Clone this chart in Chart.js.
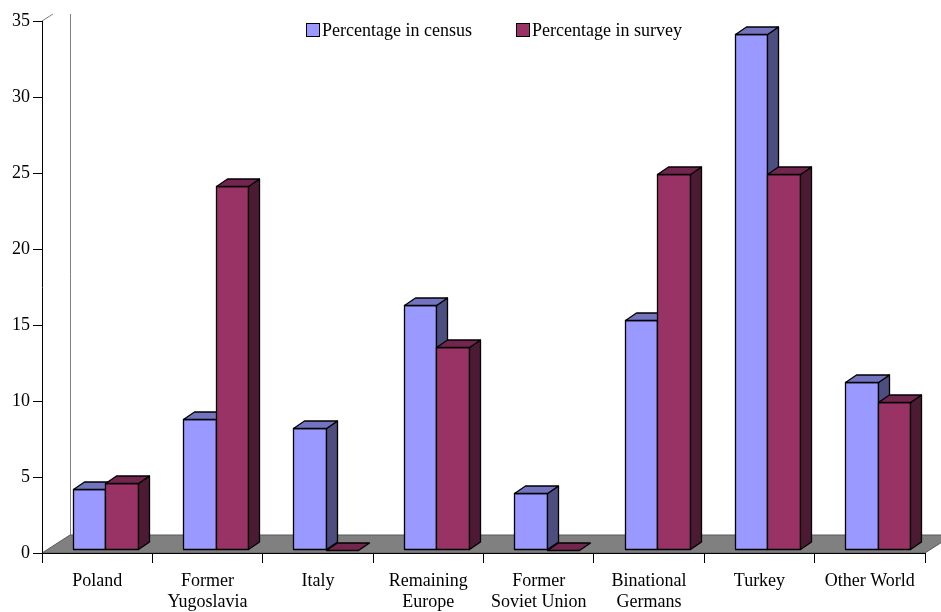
<!DOCTYPE html>
<html>
<head>
<meta charset="utf-8">
<script src="https://cdn.jsdelivr.net/npm/chart.js@4"></script>
<style>
  html, body { margin: 0; padding: 0; background: #fff; }
  canvas { display: block; }
</style>
</head>
<body>
<canvas id="chart" width="941" height="612"></canvas>
<script>
// Origin groups along the category axis (multi-line labels as arrays)
const categories = [
    ["Poland"],
    ["Former", "Yugoslavia"],
    ["Italy"],
    ["Remaining", "Europe"],
    ["Former", "Soviet Union"],
    ["Binational", "Germans"],
    ["Turkey"],
    ["Other World"]
];
const censusValues = [4.0, 8.6, 8.0, 16.1, 3.7, 15.1, 33.9, 11.0];
const surveyValues = [4.4, 23.9, 0, 13.3, 0, 24.7, 24.7, 9.7];
const yTicks = [0, 5, 10, 15, 20, 25, 30, 35];
const seriesNames = ["Percentage in census", "Percentage in survey"];

const serif = '"Liberation Serif", "Times New Roman", serif';

// front / top / side shades of each series
const shades = [
    { front: "#9999ff", top: "#7373bf", side: "#4d4d80" },
    { front: "#993366", top: "#73264d", side: "#4d1a33" }
];

// fake 3d projection offsets
const FLOOR_DX = 28, FLOOR_DY = -18;
const BAR_DX = 11, BAR_DY = -7.5;
const BAR_SHIFT_X = 8, BAR_SHIFT_Y = -3.5;

let poly = (ctx, pts, fill) => {
    ctx.beginPath();
    ctx.moveTo(pts[0][0], pts[0][1]);
    for (let i = 1; i < pts.length; i++)
        ctx.lineTo(pts[i][0], pts[i][1]);
    ctx.closePath();
    ctx.fillStyle = fill;
    ctx.fill();
    ctx.stroke();
};

const floor3d = {
    id: "floor3d",
    beforeDraw(chart) {
        const { ctx, chartArea: a } = chart;
        ctx.save();
        // back wall edge + top corner
        ctx.strokeStyle = "#808080";
        ctx.lineWidth = 1;
        ctx.beginPath();
        ctx.moveTo(a.left + FLOOR_DX + 0.5, 14);
        ctx.lineTo(a.left + FLOOR_DX + 0.5, a.bottom + FLOOR_DY);
        ctx.moveTo(a.left, a.top);
        ctx.lineTo(a.left + 11, a.top - 7);
        ctx.stroke();
        // grey floor
        ctx.strokeStyle = "#5a5a5a";
        poly(ctx, [
            [a.left, a.bottom],
            [a.right, a.bottom],
            [a.right + FLOOR_DX, a.bottom + FLOOR_DY],
            [a.left + FLOOR_DX, a.bottom + FLOOR_DY]
        ], "#808080");
        ctx.restore();
    }
};

const bars3d = {
    id: "bars3d",
    afterDatasetsDraw(chart) {
        const ctx = chart.ctx;
        ctx.save();
        ctx.strokeStyle = "#000";
        ctx.lineWidth = 1.3;
        ctx.lineJoin = "round";
        for (let i = 0; i < categories.length; i++) {
            for (let d = 0; d < 2; d++) {
                const el = chart.getDatasetMeta(d).data[i];
                const c = shades[d];
                const x0 = Math.round(el.x - el.width / 2 + BAR_SHIFT_X) + 0.5;
                const x1 = Math.round(el.x + el.width / 2 + BAR_SHIFT_X) + 0.5;
                const yb = Math.round(el.base + BAR_SHIFT_Y) + 0.5;
                const yt = Math.round(el.y + BAR_SHIFT_Y) + 0.5;
                if (yb - yt > 0.5) {
                    poly(ctx, [[x0, yt], [x1, yt], [x1, yb], [x0, yb]], c.front);
                    poly(ctx, [[x1, yt], [x1, yb], [x1 + BAR_DX, yb + BAR_DY], [x1 + BAR_DX, yt + BAR_DY]], c.side);
                }
                poly(ctx, [[x0, yt], [x1, yt], [x1 + BAR_DX, yt + BAR_DY], [x0 + BAR_DX, yt + BAR_DY]], c.top);
            }
        }
        ctx.restore();
    },
    afterDraw(chart) {
        // legend inside the plot, top centre
        const ctx = chart.ctx;
        const items = [{ x: 306, name: seriesNames[0] }, { x: 516, name: seriesNames[1] }];
        ctx.save();
        ctx.font = "18px " + serif;
        ctx.textBaseline = "alphabetic";
        ctx.lineWidth = 1;
        items.forEach((it, k) => {
            ctx.fillStyle = shades[k].front;
            ctx.fillRect(it.x + 0.5, 23.5, 13, 13);
            ctx.strokeStyle = "#000";
            ctx.strokeRect(it.x + 0.5, 23.5, 13, 13);
            ctx.fillStyle = "#000";
            ctx.fillText(it.name, it.x + 16, 36);
        });
        ctx.restore();
    }
};

new Chart(document.getElementById("chart"), {
    type: "bar",
    data: {
        labels: categories,
        datasets: [
            { label: seriesNames[0], data: censusValues, backgroundColor: "rgba(0,0,0,0)", borderWidth: 0 },
            { label: seriesNames[1], data: surveyValues, backgroundColor: "rgba(0,0,0,0)", borderWidth: 0 }
        ]
    },
    options: {
        responsive: false,
        animation: false,
        events: [],
        categoryPercentage: 0.59,
        barPercentage: 1,
        layout: { padding: { left: 0, right: 16, top: 21, bottom: 0 } },
        plugins: {
            legend: { display: false },
            tooltip: { enabled: false }
        },
        scales: {
            x: {
                afterFit: (scale) => { scale.height = 59; },
                ticks: {
                    color: "#000",
                    font: { family: serif, size: 18, lineHeight: 1.15 },
                    padding: 8,
                    maxRotation: 0,
                    autoSkip: false
                },
                grid: { drawOnChartArea: false, tickLength: 10, color: "#000", offset: true },
                border: { color: "#000", width: 1 }
            },
            y: {
                min: 0,
                max: 35,
                afterFit: (scale) => { scale.width = 42; },
                afterBuildTicks: (scale) => { scale.ticks = yTicks.map(v => ({ value: v })); },
                ticks: { color: "#000", font: { family: serif, size: 18 }, padding: 3 },
                grid: { drawOnChartArea: false, tickLength: 9, color: "#000" },
                border: { color: "#000", width: 1 }
            }
        }
    },
    plugins: [floor3d, bars3d]
});
</script>
</body>
</html>
